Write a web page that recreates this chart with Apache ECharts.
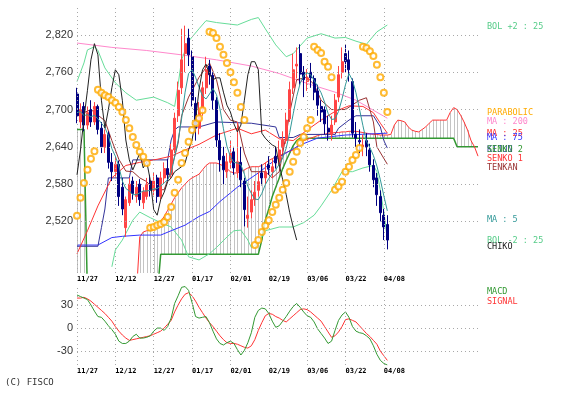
<!DOCTYPE html>
<html><head><meta charset="utf-8">
<script src="https://cdn.jsdelivr.net/npm/echarts@6/dist/echarts.min.js"></script>
<style>html,body{margin:0;padding:0;background:#fff}#c{width:564px;height:395px}</style>
</head><body><div id="c"></div>
<script>
const dateLabels = ['11/27','12/12','12/27','01/17','02/01','02/19','03/06','03/22','04/08'];
const dateIdx = [0,11,22,33,44,55,66,77,88];
const priceTicks = [2520,2580,2640,2700,2760,2820];
const macdTicks = [-30,0,30];

const open  = [2725,2680,2705,2675,2700,2680,2705,2670,2640,2660,2615,2600,2612,2575,2510,2550,2585,2560,2580,2550,2560,2585,2570,2590,2560,2590,
 2605,2595,2635,2690,2735,2790,2815,2785,2710,2670,2700,2735,2770,2755,2715,2650,2625,2600,2615,2632,2600,2615,2585,2525,2535,2555,2570,2598,2590,2612,2600,2625,2615,2640,2650,2685,2735,2770,2790,2760,2745,2760,2750,2730,2705,2700,2670,2660,2680,2720,2760,2790,2780,2745,2660,2650,2640,2650,2635,2610,2590,2560,2530,2515];
const close = [2690,2700,2675,2695,2680,2705,2668,2640,2660,2615,2600,2612,2560,2540,2555,2580,2565,2575,2555,2568,2580,2570,2585,2560,2590,2605,
 2595,2635,2686,2731,2780,2806,2788,2715,2670,2700,2735,2764,2756,2715,2651,2619,2603,2616,2630,2606,2616,2587,2539,2530,2555,2567,2584,2590,2600,2604,2608,2614,2635,2651,2683,2732,2764,2773,2757,2748,2751,2751,2728,2707,2696,2677,2664,2675,2715,2756,2777,2777,2764,2662,2654,2648,2643,2640,2611,2587,2563,2534,2511,2490];
const low   = [2678,2670,2665,2668,2672,2675,2660,2630,2630,2605,2585,2590,2545,2530,2495,2545,2555,2550,2545,2540,2555,2560,2562,2550,2555,2580,
 2585,2590,2630,2680,2725,2760,2770,2705,2650,2660,2690,2725,2740,2700,2640,2600,2580,2590,2605,2595,2590,2575,2512,2510,2525,2545,2560,2578,2580,2595,2590,2605,2610,2630,2645,2680,2725,2750,2740,2720,2730,2735,2715,2690,2680,2660,2650,2650,2675,2712,2750,2760,2745,2655,2640,2630,2625,2625,2600,2575,2545,2520,2490,2475];
const high  = [2735,2710,2712,2705,2715,2712,2708,2680,2668,2665,2630,2625,2618,2590,2560,2590,2592,2585,2588,2575,2590,2595,2598,2595,2600,2615,
 2620,2645,2695,2745,2830,2835,2830,2795,2720,2712,2745,2785,2780,2760,2720,2662,2640,2630,2650,2640,2680,2640,2590,2560,2570,2585,2600,2612,2615,2625,2620,2640,2650,2665,2695,2745,2790,2800,2805,2770,2765,2775,2755,2740,2715,2705,2690,2690,2725,2770,2800,2805,2795,2750,2680,2668,2660,2662,2645,2620,2598,2570,2540,2530];

const ma5 = [2695,2697,2690,2692,2688,2691,2685,2678,2671,2658,2637,2625,2609,2585,2573,2569,2563,2563,2566,2569,2569,2570,2572,2573,2577,2582,2587,2598,2624,2650,2685,2728,2758,2764,2752,2736,2722,2717,2725,2734,2724,2701,2669,2641,2624,2615,2614,2611,2596,2576,2565,2556,2555,2565,2579,2589,2597,2603,2612,2622,2638,2663,2693,2721,2742,2755,2759,2756,2747,2737,2727,2712,2694,2684,2685,2697,2717,2740,2758,2747,2727,2701,2674,2649,2639,2626,2609,2587,2561,2537];
const ma25 = [[0,2468],[3,2505],[6,2545],[10,2590],[14,2610],[18,2615],[23,2620],[27,2625],[31,2635],[35,2644],[40,2659],[46,2670],[50,2661],[54,2667],[58,2653],[62,2650],[66,2667],[70,2683],[74,2697],[78,2706],[82,2705],[85,2695],[87,2678],[89,2662]];
const ma75 = [[0,2482],[6,2482],[10,2494],[13,2496],[18,2498],[24,2498],[27,2505],[31,2514],[35,2528],[38,2536],[41,2552],[46,2575],[52,2598],[58,2624],[64,2643],[69,2654],[77,2659],[89,2662]];
const ma200 = [[0,2807],[10,2800],[20,2795],[30,2788],[40,2780],[50,2770],[58,2758],[66,2742],[74,2728],[80,2715],[89,2686]];
const bolUp = [[0,2745],[2,2775],[3,2796],[5,2801],[6,2795],[8,2767],[11,2743],[14,2727],[17,2715],[22,2720],[26,2711],[28,2705],[29,2740],[30,2780],[32,2810],[35,2830],[37,2843],[40,2840],[46,2836],[50,2845],[52,2848],[54,2830],[57,2804],[60,2785],[62,2790],[66,2815],[70,2822],[74,2815],[77,2816],[80,2810],[83,2805],[86,2825],[89,2836]];
const bolDn = [[10,2447],[11,2474],[13,2490],[16,2522],[18,2535],[21,2526],[24,2518],[27,2511],[30,2490],[32,2463],[35,2458],[38,2468],[40,2478],[43,2495],[45,2505],[47,2506],[49,2490],[50,2478],[52,2485],[54,2505],[58,2511],[62,2511],[65,2518],[68,2530],[70,2545],[73,2570],[76,2600],[79,2600],[82,2606],[85,2610],[86,2600],[87,2570],[88,2535],[89,2492]];
const tenkan = [[0,2690],[4,2700],[8,2682],[10,2650],[12,2620],[14,2601],[16,2600],[18,2590],[20,2584],[22,2571],[25,2571],[27,2603],[29,2646],[30,2690],[32,2720],[35,2752],[38,2775],[40,2748],[42,2700],[44,2683],[46,2680],[48,2630],[50,2600],[54,2600],[56,2590],[58,2600],[60,2660],[61,2695],[63,2748],[66,2752],[68,2740],[70,2715],[73,2700],[77,2700],[81,2715],[83,2719],[85,2680],[86,2640],[89,2612]];
const kijun = [[0,2480],[6,2480],[7,2510],[8,2540],[9,2590],[15,2590],[16,2619],[26,2619],[27,2651],[28,2667],[29,2672],[35,2672],[40,2680],[50,2678],[57,2672],[58,2655],[62,2655],[64,2660],[74,2660],[75,2670],[78,2683],[80,2690],[85,2690],[87,2672],[88,2650],[89,2638]];
const senko1 = [2400,2400,2400,2400,2400,2400,2400,2400,2400,2400,2400,2400,2400,2400,2400,2400,2400,
 2400,2495,2503,2505,2506,2510,2515,2520,2528,2538,2548,2558,2566,2574,2580,2586,2590,2593,2596,2603,2610,2614,2614,2614,2612,2609,2605,2600,2598,2598,2600,2603,2606,2608,2608,2608,2610,2614,2618,2621,2624,2626,2628,2631,2633,2635,2640,2645,2650,2652,2654,2656,2658,2660,2660,2662,2662,2663,2663,2664,2664,2665,2665,2665,2664,2663,2662,2661,2660,2660,2659,2659,2659,2660,2675,2683,2682,2680,2672,2667,2665,2664,2668,2672,2678,2683,2683,2683,2683,2683,2695,2703,2700,2691,2680,2667,2650,2640,2625];
const senko2 = [2668,2668,2668,
 2400,2400,2400,2400,2400,2400,2400,2400,2400,2400,2400,2400,2400,2400,2400,2400,2400,2400,2400,2400,2400,
 2467,2467,2467,2467,2467,2467,2467,2467,2467,2467,2467,2467,2467,2467,2467,2467,2467,2467,2467,2467,2467,2467,2467,2467,2467,2467,2467,2467,2467,
 2490,2522,2540,2560,2575,2590,2605,2618,2630,2642,2650,
 2654,2654,2654,2654,2654,2654,2654,2654,2654,2654,2654,2654,2654,2654,2654,2654,2654,2654,2654,2654,2654,2654,2654,2654,2654,2654,2654,2654,2654,2654,2654,2654,2654,2654,2654,2654,2654,2654,2654,2654,2654,2654,2654,2654,2654,
 2640,2640,2640,2640,2640,2640,2640];
const sar = [[0,2529],[1,2558],[2,2582],[3,2603],[4,2621],[5,2633],
 [6,2732],[7,2727],[8,2723],[9,2720],[10,2715],[11,2711],[12,2704],[13,2696],[14,2683],[15,2670],[16,2656],[17,2643],[18,2632],[19,2624],[20,2614],
 [21,2510],[22,2511],[23,2514],[24,2516],[25,2519],[26,2527],[27,2543],[28,2566],[29,2587],[30,2614],[31,2630],[32,2648],[33,2667],[34,2678],[35,2686],[36,2699],
 [38,2825],[39,2823],[40,2815],[41,2801],[42,2788],[43,2775],[44,2760],[45,2744],[46,2727],[47,2704],[48,2683],
 [51,2482],[52,2490],[53,2503],[54,2513],[55,2522],[56,2535],[57,2547],[58,2558],[59,2571],[60,2582],[61,2600],[62,2616],[63,2632],[64,2646],[65,2656],[66,2670],[67,2683],
 [68,2801],[69,2796],[70,2791],[71,2777],[72,2769],[73,2752],
 [74,2571],[75,2576],[76,2584],[77,2600],[78,2608],[79,2619],[80,2627],[81,2638],
 [82,2801],[83,2799],[84,2794],[85,2786],[86,2772],[87,2752],[88,2727],[89,2696]];
const macd = [43,41,39,37,30,22,15,14,9,3,-2,-8,-17,-20,-20,-17,-11,-8,-13,-13,-12,-10,-4,0,0,-3,2,13,32,42,53,54,49,33,15,13,14,15,7,-4,-14,-20,-22,-19,-17,-20,-28,-35,-29,-19,-6,14,23,26,25,19,9,1,3,9,15,22,28,32,27,21,16,14,8,-1,-7,-13,-20,-17,-3,10,17,21,14,2,-4,-6,-7,-10,-14,-23,-34,-42,-46,-48];
const signal = [39,39,40,38,35,31,27,23,19,14,9,2,-4,-9,-13,-16,-15,-14,-13,-12,-11,-10,-8,-6,-4,0,5,10,21,30,38,44,46,42,35,27,20,13,7,2,-4,-10,-15,-19,-20,-20,-21,-23,-25,-26,-23,-15,-3,7,16,19,18,15,13,10,8,12,16,20,24,25,24,21,17,13,9,2,-5,-12,-10,-5,2,11,12,10,8,3,-2,-7,-11,-16,-21,-30,-36,-42];

const candles = open.map((o,i)=>[i,o,close[i],low[i],high[i]]);
const chiko = close.slice(26).map((c,j)=>[j,c]);
const cloud = [];
senko1.forEach((s,i)=>{ if(s!=null && senko2[i]!=null) cloud.push([i,s,senko2[i]]); });
const idx = a => a.map((v,i)=>[i,v]);

const FONT_LEG = 'DejaVu Sans Mono';
const grid = {color:'#a8a8a8', type:[1,3], width:1};
const lineS = (name,data,color,extra) => Object.assign({type:'line',name,data,xAxisIndex:0,yAxisIndex:0,symbol:'none',lineStyle:{color,width:1},itemStyle:{color},silent:true,animation:false,z:3},extra||{});

const chart = echarts.init(document.getElementById('c'),null,{renderer:'canvas'});
const dateFmt = v => { const k = dateIdx.indexOf(v); return k>=0 ? dateLabels[k] : ''; };
const xAxisBase = (gi) => ({gridIndex:gi,type:'value',min:0,max:115,interval:11,
  axisLine:{show:false},axisTick:{show:false},splitLine:{show:false},
  axisLabel:{show:true,formatter:dateFmt,align:'left',margin:3,fontSize:7,fontWeight:'bold',fontFamily:FONT_LEG,color:'#000',showMaxLabel:false}});

chart.setOption({
  backgroundColor:'#fff',
  animation:false,
  grid:[{left:77,right:86,top:7,height:266},{left:77,right:86,top:285,height:80}],
  xAxis:[xAxisBase(0),xAxisBase(1)],
  yAxis:[
    {gridIndex:0,type:'value',min:2437,max:2865,show:false,splitLine:{show:false}},
    {gridIndex:1,type:'value',min:-48,max:56,show:false,splitLine:{show:false}}
  ],
  series:[
    {type:'line',xAxisIndex:0,yAxisIndex:0,data:[],silent:true,z:1,
     markLine:{silent:true,symbol:['none','none'],animation:false,lineStyle:grid,
       data:[].concat(
         priceTicks.map(v=>({yAxis:v,label:{show:true,position:'start',distance:4,formatter:v.toLocaleString('en-US'),color:'#333',fontSize:11,fontFamily:'Liberation Sans'}})),
         dateIdx.map(i=>({xAxis:i,label:{show:false}}))
       )}},
    {type:'line',xAxisIndex:1,yAxisIndex:1,data:[],silent:true,z:1,
     markLine:{silent:true,symbol:['none','none'],animation:false,lineStyle:grid,
       data:[].concat(
         macdTicks.map(v=>({yAxis:v,label:{show:true,position:'start',distance:4,formatter:String(v),color:'#333',fontSize:11,fontFamily:'Liberation Sans'}})),
         dateIdx.map(i=>({xAxis:i,label:{show:false}}))
       )}},
    {type:'custom',xAxisIndex:0,yAxisIndex:0,data:cloud,encode:{x:0,y:[1,2]},clip:true,silent:true,z:2,
     renderItem:(p,api)=>{const i=api.value(0);const a=api.coord([i,api.value(1)]);const b=api.coord([i,api.value(2)]);
       return {type:'line',shape:{x1:Math.round(a[0])+0.5,y1:a[1],x2:Math.round(a[0])+0.5,y2:b[1]},style:{stroke:'#c4c4c4',lineWidth:1}};}},
    lineS('senko2',idx(senko2),'#339933',{lineStyle:{color:'#339933',width:1.5}}),
    lineS('senko1',idx(senko1),'#ff3333'),
    lineS('ma200',ma200,'#ff88cc'),
    lineS('bolUp',bolUp,'#66dd99'),
    lineS('bolDn',bolDn,'#66dd99'),
    lineS('ma75',ma75,'#3333ff'),
    lineS('kijun',kijun,'#333399'),
    lineS('ma25',ma25,'#ff3333'),
    lineS('tenkan',tenkan,'#993333'),
    {type:'candlestick',xAxisIndex:0,yAxisIndex:0,data:candles,encode:{x:0,y:[1,2,3,4]},barWidth:2.5,silent:true,animation:false,z:4,
     itemStyle:{color:'#ff4444',borderColor:'#ff4444',color0:'#000080',borderColor0:'#000080',borderWidth:1}},
    lineS('ma5',idx(ma5),'#339999',{z:5}),
    lineS('chiko',chiko,'#222222',{z:5}),
    {type:'scatter',xAxisIndex:0,yAxisIndex:0,data:sar,symbol:'emptyCircle',symbolSize:6,silent:true,animation:false,z:6,
     itemStyle:{color:'#ffaa00',borderColor:'#ffaa00',borderWidth:1.5}},
    {type:'line',xAxisIndex:1,yAxisIndex:1,data:idx(signal),symbol:'none',silent:true,animation:false,lineStyle:{color:'#ff3333',width:1},z:3},
    {type:'line',xAxisIndex:1,yAxisIndex:1,data:idx(macd),symbol:'none',silent:true,animation:false,lineStyle:{color:'#339933',width:1},z:3}
  ],
  graphic:[
    ['BOL +2 : 25',27,'#55cc88'],['PARABOLIC',113,'#ffaa00'],['MA : 200',122,'#ff88cc'],
    ['MA : 25',134,'#ff3333'],['MA : 75',138,'#3333ff'],['KIJUN',150,'#334499'],['SENKO 2',150,'#339933'],
    ['SENKO 1',159,'#ff3333'],['TENKAN',168,'#993333'],['MA : 5',220,'#339999'],
    ['BOL -2 : 25',241,'#55cc88'],['CHIKO',247,'#222222'],['MACD',292,'#339933'],['SIGNAL',302,'#ff3333']
  ].map(([t,y,c])=>({type:'text',x:487,y:y,silent:true,style:{text:t,fill:c,font:'8.5px '+FONT_LEG,textVerticalAlign:'middle'}}))
  .concat([{type:'text',x:5,y:383,silent:true,style:{text:'(C) FISCO',fill:'#333',font:'9px '+FONT_LEG,textVerticalAlign:'middle'}}])
});
</script></body></html>
